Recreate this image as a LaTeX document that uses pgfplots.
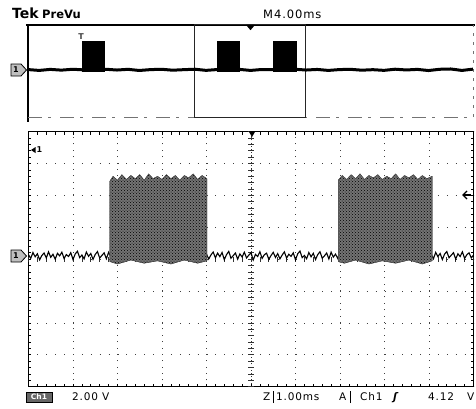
\documentclass[border=0pt]{standalone}
\usepackage{fontspec}
\setmainfont{DejaVu Sans}
\newfontfamily\tek[LetterSpace=8]{DejaVu Sans}
\usepackage{pgfplots}
\pgfplotsset{compat=1.18}
\usetikzlibrary{patterns}
\begin{document}
\begin{tikzpicture}
\path[use as bounding box] (0,0) rectangle (476pt,408pt);

% ---- preview window (whole record, 4 ms/div)
\begin{axis}[at={(28pt,291pt)}, anchor=south west, width=445pt, height=92pt, scale only axis,
  xmin=0, xmax=40, ymin=-8.2, ymax=7.8, axis line style={draw=none}, ticks=none, clip=false]
\draw[line width=2pt] (rel axis cs:-0.005,1) -- (rel axis cs:1.005,1);
\draw[line width=1.2pt] (rel axis cs:0,-0.05) -- (rel axis cs:0,1);
\draw[black!55, line width=0.8pt, dash pattern=on 14pt off 6pt on 3pt off 9pt] (rel axis cs:0,0) -- (rel axis cs:1,0);
\draw[black!55, line width=0.8pt, dash pattern=on 3pt off 6pt] (rel axis cs:1,0) -- (rel axis cs:1,1);
\draw[line width=1pt, black!85] (axis cs:15,-8.2) rectangle (axis cs:24.9,7.8);
\addplot[black, line width=3pt] table {
t v
0 0.05
1 -0.10
2 0.08
3 -0.05
4 0.10
5 0.00
6 -0.08
7 0.10
8 -0.03
9 0.09
10 -0.11
11 0.04
12 0.10
13 -0.06
14 0.03
15 0.11
16 -0.09
17 0.05
18 -0.04
19 0.08
20 -0.10
21 0.06
22 0.02
23 -0.08
24 0.10
25 -0.03
26 0.07
27 -0.10
28 0.05
29 0.09
30 -0.06
31 0.03
32 -0.09
33 0.11
34 -0.02
35 0.08
36 -0.12
37 0.10
38 0.15
39 -0.10
40 0.12
};
\addplot[fill=black, draw=black, line width=0.6pt] coordinates {(4.85,-0.3) (4.85,4.9) (6.83,4.9) (6.83,-0.3)} --cycle;
\addplot[fill=black, draw=black, line width=0.6pt] coordinates {(16.99,-0.3) (16.99,4.9) (18.97,4.9) (18.97,-0.3)} --cycle;
\addplot[fill=black, draw=black, line width=0.6pt] coordinates {(22.02,-0.3) (22.02,4.9) (24.09,4.9) (24.09,-0.3)} --cycle;
\fill (axis cs:19.6,7.8) -- (axis cs:20.4,7.8) -- (axis cs:20,6.9) -- cycle;
\end{axis}

% ---- main window (1 ms/div, 2 V/div)
\begin{axis}[at={(28.5pt,21.3pt)}, anchor=south west, width=445pt, height=255pt, scale only axis,
  xmin=0, xmax=10, ymin=-8.2, ymax=7.8,
  xtick={0,...,10}, ytick={-8.2,-6.2,-4.2,-2.2,-0.2,1.8,3.8,5.8,7.8},
  xticklabels={}, yticklabels={},
  minor x tick num=4, minor y tick num=4,
  tick align=inside, major tick length=3pt, minor tick length=3pt,
  tick style={black, line width=0.8pt},
  grid=major,
  major x grid style={black!75, line width=0.9pt, dash pattern=on 0.9pt off 5.48pt},
  major y grid style={black!75, line width=0.9pt, dash pattern=on 0.9pt off 8pt},
  axis line style={line width=1.5pt}]
% centre graticule with fine ticks
\draw[black!80, line width=0.9pt, dash pattern=on 0.9pt off 2.3pt] (axis cs:5,-8.2) -- (axis cs:5,7.8);
\pgfplotsinvokeforeach{-8.2,-7.8,...,7.8}{\draw[black!80, line width=0.7pt] (axis cs:4.94,#1) -- (axis cs:5.06,#1);}
\pgfplotsinvokeforeach{0,0.2,...,10}{\draw[black!80, line width=0.7pt] (axis cs:#1,-0.36) -- (axis cs:#1,-0.04);}
% baseline noise
\addplot[black, line width=1.1pt] table {
t v
0.00 0.08
0.05 -0.15
0.10 0.22
0.15 -0.05
0.20 0.14
0.25 -0.24
0.30 0.03
0.35 0.19
0.40 -0.12
0.45 0.26
0.50 -0.08
0.55 0.11
0.60 -0.20
0.65 0.17
0.70 0.01
0.75 0.24
0.80 -0.16
0.85 0.09
0.90 -0.03
0.95 0.21
1.00 -0.22
1.05 0.13
1.10 0.30
1.15 -0.10
1.20 0.06
1.25 -0.18
1.30 0.25
1.35 -0.02
1.40 0.16
1.45 -0.21
1.50 0.10
1.55 0.28
1.60 -0.13
1.65 0.04
1.70 0.20
1.75 -0.17
1.80 0.23
1.85 -0.06
};
\addplot[black, line width=1.1pt] table {
t v
4.00 0.12
4.05 -0.19
4.10 0.07
4.15 0.25
4.20 -0.11
4.25 0.18
4.30 -0.04
4.35 0.22
4.40 -0.23
4.45 0.09
4.50 0.29
4.55 -0.14
4.60 0.02
4.65 0.19
4.70 -0.20
4.75 0.13
4.80 -0.06
4.85 0.24
4.90 -0.12
4.95 0.05
5.00 0.21
5.05 -0.25
5.10 0.10
5.15 -0.03
5.20 0.27
5.25 -0.15
5.30 0.08
5.35 0.18
5.40 -0.21
5.45 0.03
5.50 0.23
5.55 -0.09
5.60 0.15
5.65 -0.18
5.70 0.06
5.75 0.26
5.80 -0.13
5.85 0.11
5.90 -0.02
5.95 0.20
6.00 -0.24
6.05 0.14
6.10 0.31
6.15 -0.10
6.20 0.04
6.25 -0.17
6.30 0.22
6.35 -0.05
6.40 0.17
6.45 -0.22
6.50 0.09
6.55 0.27
6.60 -0.14
6.65 0.01
6.70 0.19
6.75 -0.19
6.80 0.24
6.85 -0.07
6.90 0.12
6.95 -0.16
6.97 0.05
};
\addplot[black, line width=1.1pt] table {
t v
9.05 0.10
9.10 -0.17
9.15 0.23
9.20 -0.04
9.25 0.16
9.30 -0.22
9.35 0.12
9.40 0.28
9.45 -0.11
9.50 0.05
9.55 0.21
9.60 -0.19
9.65 0.14
9.70 -0.03
9.75 0.26
9.80 -0.15
9.85 0.08
9.90 0.20
9.95 -0.12
10.00 0.06
};
% bursts
\addplot[draw=black!70, line width=0.4pt, fill=black!55, postaction={pattern=crosshatch dots, pattern color=black}] coordinates {
(1.83,-0.35) (1.83,4.7) (1.9,5.0) (2.0,4.75) (2.1,5.1) (2.2,4.8) (2.3,5.05) (2.4,4.85) (2.5,5.1)
(2.6,4.75) (2.7,5.15) (2.8,4.85) (2.9,5.0) (3.0,4.8) (3.1,5.1) (3.2,4.85) (3.3,5.05) (3.4,4.75)
(3.5,5.05) (3.6,4.9) (3.7,5.15) (3.8,4.8) (3.9,5.05) (4.01,4.85)
(4.01,-0.3) (3.8,-0.45) (3.5,-0.25) (3.2,-0.5) (2.9,-0.3) (2.6,-0.45) (2.3,-0.25) (2.0,-0.5)} --cycle;
\addplot[draw=black!70, line width=0.4pt, fill=black!55, postaction={pattern=crosshatch dots, pattern color=black}] coordinates {
(6.96,-0.35) (6.96,4.75) (7.05,5.05) (7.15,4.8) (7.25,5.1) (7.35,4.85) (7.45,5.15) (7.55,4.8) (7.65,5.05)
(7.75,4.9) (7.85,5.1) (7.95,4.8) (8.05,5.0) (8.15,4.85) (8.25,5.15) (8.35,4.8) (8.45,5.05) (8.55,4.9)
(8.65,5.1) (8.75,4.8) (8.85,5.05) (8.95,4.85) (9.07,5.0)
(9.07,-0.3) (8.85,-0.5) (8.55,-0.25) (8.25,-0.45) (7.95,-0.3) (7.65,-0.5) (7.35,-0.25) (7.1,-0.45)} --cycle;
\end{axis}

% ---- scope markers
\fill (248.5pt,277pt) -- (255.5pt,277pt) -- (252pt,271pt) -- cycle;
\foreach \yy in {338,152} {
  \draw[fill=black!25, line width=0.8pt] (11pt,\yy pt-6pt) -- (21pt,\yy pt-6pt) -- (26.5pt,\yy pt) -- (21pt,\yy pt+6pt) -- (11pt,\yy pt+6pt) -- cycle;
  \node[font=\bfseries\fontsize{8}{8}\selectfont, inner sep=0pt] at (16pt,\yy pt) {1};
}
\fill (31pt,258pt) -- (35.5pt,261pt) -- (35.5pt,255pt) -- cycle;
\node[font=\bfseries\fontsize{8}{8}\selectfont, inner sep=0pt] at (39.5pt,258pt) {1};
\node[font=\bfseries\fontsize{8}{8}\selectfont, text=black!75, inner sep=0pt] at (81pt,371pt) {T};
\draw[line width=1.3pt] (471pt,213pt) -- (463pt,213pt);
\draw[line width=1.3pt] (467pt,217pt) -- (463pt,213pt) -- (467pt,209pt);

% ---- header
\node[anchor=base west, inner sep=0pt, font=\bfseries\fontsize{14}{14}\selectfont] at (12pt,389pt) {Tek};
\node[anchor=base west, inner sep=0pt, font=\bfseries\fontsize{11.5}{11.5}\selectfont] at (42pt,389pt) {PreVu};
\node[anchor=base west, inner sep=0pt, font=\tek\fontsize{11.5}{11.5}\selectfont] at (263pt,389pt) {M4.00ms};

% ---- status line
\draw[fill=black!60, draw=black] (26pt,6pt) rectangle (52pt,16pt);
\node[font=\bfseries\fontsize{7.5}{7.5}\selectfont, text=white, inner sep=0pt] at (39pt,11pt) {Ch1};
\node[anchor=base west, inner sep=0pt, font=\tek\fontsize{10.5}{10.5}\selectfont] at (72pt,8pt) {2.00};
\node[anchor=base west, inner sep=0pt, font=\tek\fontsize{10.5}{10.5}\selectfont] at (102pt,8pt) {V};
\node[anchor=base west, inner sep=0pt, font=\tek\fontsize{10.5}{10.5}\selectfont] at (263pt,8pt) {Z};
\draw[line width=0.6pt] (273.5pt,5pt) -- (273.5pt,17pt);
\node[anchor=base west, inner sep=0pt, font=\tek\fontsize{10.5}{10.5}\selectfont] at (276pt,8pt) {1.00ms};
\node[anchor=base west, inner sep=0pt, font=\tek\fontsize{10.5}{10.5}\selectfont] at (339pt,8pt) {A};
\draw[line width=0.6pt] (350.5pt,5pt) -- (350.5pt,17pt);
\node[anchor=base west, inner sep=0pt, font=\tek\fontsize{10.5}{10.5}\selectfont] at (360pt,8pt) {Ch1};
\node[anchor=base west, inner sep=0pt, font=\bfseries\itshape\fontsize{10.5}{10.5}\selectfont] at (393pt,8pt) {ʃ};
\node[anchor=base west, inner sep=0pt, font=\tek\fontsize{10.5}{10.5}\selectfont] at (428pt,8pt) {4.12};
\node[anchor=base west, inner sep=0pt, font=\tek\fontsize{10.5}{10.5}\selectfont] at (467pt,8pt) {V};
\end{tikzpicture}
\end{document}
